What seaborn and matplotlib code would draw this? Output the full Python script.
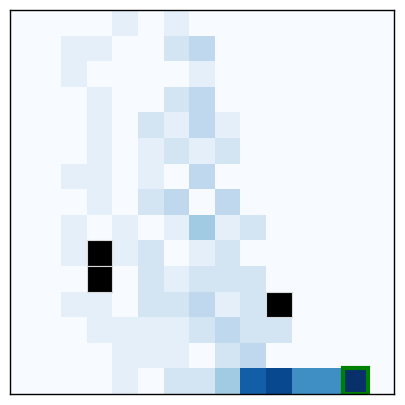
import numpy as np
import matplotlib
matplotlib.use("Agg")
import matplotlib.pyplot as plt
from matplotlib.patches import Rectangle
import seaborn as sns

n_rows, n_cols = 15, 15

# visit counts per row, (col, count)
row_counts = [
    [(4, 1), (6, 1)],
    [(2, 1), (3, 1), (6, 2), (7, 3)],
    [(2, 1), (7, 1)],
    [(3, 1), (6, 2), (7, 3)],
    [(3, 1), (5, 2), (6, 1), (7, 3), (8, 1)],
    [(3, 1), (5, 1), (6, 2), (7, 1), (8, 2)],
    [(2, 1), (3, 1), (5, 1), (7, 3)],
    [(3, 1), (5, 2), (6, 3), (8, 3)],
    [(2, 1), (4, 1), (6, 1), (7, 4), (8, 1), (9, 2)],
    [(2, 1), (4, 1), (5, 2), (7, 1), (8, 2)],
    [(5, 2), (6, 1), (7, 2), (8, 2), (9, 2)],
    [(2, 1), (3, 1), (5, 2), (6, 2), (7, 3), (8, 1), (9, 2)],
    [(3, 1), (4, 1), (5, 1), (6, 1), (7, 2), (8, 3), (9, 2), (10, 2)],
    [(4, 1), (5, 1), (6, 1), (8, 2), (9, 3)],
    [(4, 1), (6, 2), (7, 2), (8, 4), (9, 9), (10, 10), (11, 7), (12, 7), (13, 11)],
]
walls = [(9, 3), (10, 3), (11, 10)]
goal = (14, 13)

grid = np.zeros((n_rows, n_cols))
for r, cells in enumerate(row_counts):
    for c, v in cells:
        grid[r, c] = v

fig = plt.figure(figsize=(4.05, 4.05), dpi=100)
ax = fig.add_axes([10 / 405, 11 / 405, 384 / 405, 384 / 405])
sns.heatmap(grid, cmap="Blues", vmin=0, vmax=11, cbar=False,
            xticklabels=False, yticklabels=False, ax=ax)

for r, c in walls:
    ax.add_patch(Rectangle((c, r), 1, 1, facecolor="black", edgecolor="#d9d9d9", lw=0.8))
ax.add_patch(Rectangle((goal[1], goal[0]), 1, 1, fill=False, edgecolor="green", lw=3))

for s in ax.spines.values():
    s.set_visible(True)
    s.set_color("black")
    s.set_linewidth(1)

fig.savefig("out.png", dpi=100)
